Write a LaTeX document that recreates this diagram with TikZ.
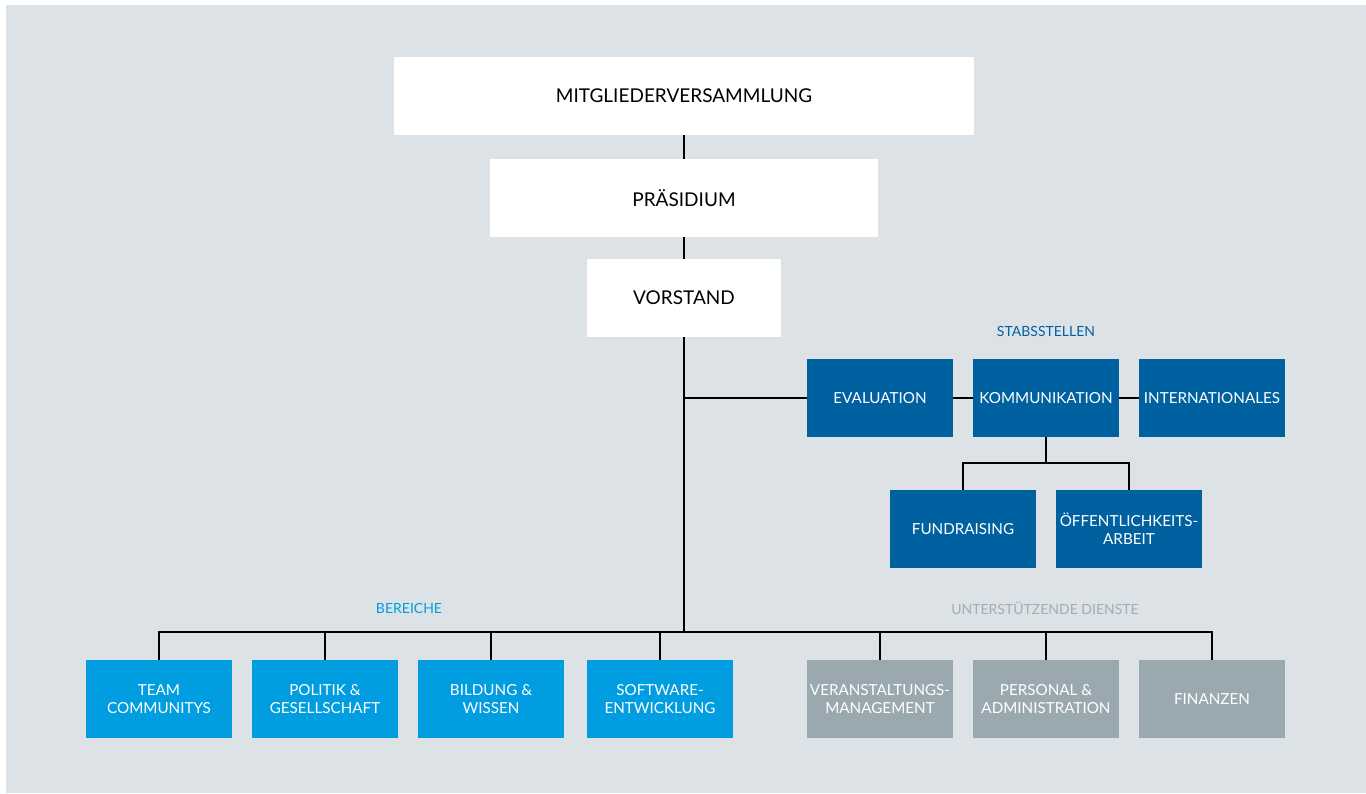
\documentclass[tikz,border=0pt]{standalone}
\usepackage{fontspec}
\setmainfont{Lato}
\usepackage{tikz}
\usetikzlibrary{positioning}
\definecolor{bggrey}{HTML}{DDE2E6}
\definecolor{stabblue}{HTML}{0061A1}
\definecolor{bereichblue}{HTML}{009EE0}
\definecolor{dienstgrey}{HTML}{9AA9B0}
\definecolor{labelgrey}{HTML}{A3ADB4}
\tikzstyle{organ} = [rectangle, fill=white, text=black, align=center,
    inner sep=0pt, minimum height=39pt, font=\fontsize{9.5}{11}\selectfont]
\tikzstyle{stab} = [rectangle, fill=stabblue, text=white, align=center,
    inner sep=0pt, minimum width=73pt, minimum height=39pt, font=\fontsize{7.6}{9}\selectfont]
\tikzstyle{bereich} = [stab, fill=bereichblue]
\tikzstyle{dienst} = [stab, fill=dienstgrey]
\tikzstyle{grouplabel} = [inner sep=0pt, font=\fontsize{7}{8}\selectfont]
\tikzstyle{line} = [draw, line width=0.9pt, black]

\begin{document}
\begin{tikzpicture}[x=0.5pt, y=-0.5pt, node distance=2cm]
            \useasboundingbox (0,0) rectangle (1366,793);
            \fill [bggrey] (6,5) rectangle (1366,793);

            % Place nodes
            \node [organ, minimum width=290pt] (mv) at (684,96) {MITGLIEDERVERSAMMLUNG};
            \node [organ, minimum width=194pt, below of=mv, node distance=51pt] (praes) {PRÄSIDIUM};
            \node [organ, minimum width=97pt, below of=praes, node distance=50pt] (vorstand) {VORSTAND};

            \node [grouplabel, text=stabblue] (stablabel) at (1046,331) {STABSSTELLEN};
            \node [stab] (eval) at (880,398) {EVALUATION};
            \node [stab] (komm) at (1046,398) {KOMMUNIKATION};
            \node [stab] (intl) at (1212,398) {INTERNATIONALES};
            \node [stab] (fund) at (963,529) {FUNDRAISING};
            \node [stab] (oeff) at (1129,529) {ÖFFENTLICHKEITS-\\ARBEIT};

            \node [grouplabel, text=bereichblue] (berlabel) at (409,608) {BEREICHE};
            \node [grouplabel, text=labelgrey] (dienstlabel) at (1045,608) {UNTERSTÜTZENDE DIENSTE};
            \node [bereich] (team) at (159,699) {TEAM\\COMMUNITYS};
            \node [bereich] (politik) at (325,699) {POLITIK \&\\GESELLSCHAFT};
            \node [bereich] (bildung) at (491,699) {BILDUNG \&\\WISSEN};
            \node [bereich] (software) at (660,699) {SOFTWARE-\\ENTWICKLUNG};
            \node [dienst] (veranst) at (880,699) {VERANSTALTUNGS-\\MANAGEMENT};
            \node [dienst] (personal) at (1046,699) {PERSONAL \&\\ADMINISTRATION};
            \node [dienst] (finanzen) at (1212,699) {FINANZEN};

            \coordinate (stabjoin) at (vorstand |- eval);
            \coordinate (kommjoin) at (1046,463);
            \coordinate (bus) at (684,632);

            % Draw edges
            \path [line] (mv) -- (praes);
            \path [line] (praes) -- (vorstand);
            \path [line] (vorstand) -- (bus);

            \path [line] (stabjoin) -- (eval);
            \path [line] (eval) -- (komm);
            \path [line] (komm) -- (intl);
            \path [line] (komm) -- (kommjoin);
            \path [line] (kommjoin) -| (fund);
            \path [line] (kommjoin) -| (oeff);

            \path [line] (bus) -| (team);
            \path [line] (bus) -| (politik);
            \path [line] (bus) -| (bildung);
            \path [line] (bus) -| (software);
            \path [line] (bus) -| (veranst);
            \path [line] (bus) -| (personal);
            \path [line] (bus) -| (finanzen);

        \end{tikzpicture}
\end{document}
